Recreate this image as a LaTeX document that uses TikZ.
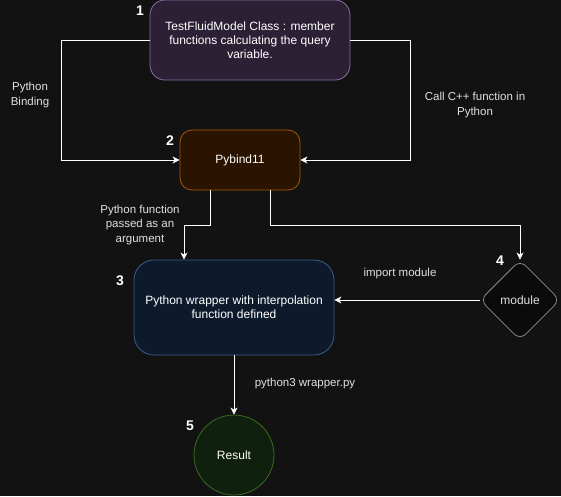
\documentclass[tikz,border=0pt]{standalone}
\usepackage{fontspec}
\setmainfont{Liberation Sans}
\usetikzlibrary{arrows.meta,shapes.geometric}

\definecolor{bgcol}{HTML}{121212}
\definecolor{modelfill}{HTML}{2B2034}
\definecolor{modeldraw}{HTML}{8E6CA0}
\definecolor{bindfill}{HTML}{2A1400}
\definecolor{binddraw}{HTML}{A05A0A}
\definecolor{wrapfill}{HTML}{0C1A2C}
\definecolor{wrapdraw}{HTML}{3E5C88}
\definecolor{modfill}{HTML}{0B0B0B}
\definecolor{moddraw}{HTML}{8A8A8A}
\definecolor{resfill}{HTML}{10200E}
\definecolor{resdraw}{HTML}{3A6A1E}
\definecolor{labelgrey}{HTML}{E0E0E0}

\tikzset{
  block/.style={draw, line width=0.8pt, text=white, align=center,
    font=\fontsize{12}{14}\selectfont, inner sep=0pt},
  link/.style={draw=white, line width=0.8pt, -{Stealth[length=7pt,width=7pt,inset=2pt]}},
  edgetext/.style={text=labelgrey, align=center, font=\fontsize{11.5}{14.5}\selectfont},
  stepnum/.style={text=white, font=\fontsize{14}{16}\selectfont\bfseries}
}

\begin{document}
\begin{tikzpicture}[x=1pt,y=-1pt]

% background
\fill[bgcol] (0,0) rectangle (561,496);
\useasboundingbox (0,0) rectangle (561,496);

% Nodes
\node[block, fill=modelfill, draw=modeldraw, rounded corners=15pt,
  minimum width=200pt, minimum height=80pt] (model) at (250,40)
  {TestFluidModel Class : member\\functions calculating the query\\variable.};
\node[block, fill=bindfill, draw=binddraw, rounded corners=12pt,
  minimum width=120pt, minimum height=60pt] (bind) at (240,160) {Pybind11};
\node[block, fill=wrapfill, draw=wrapdraw, rounded corners=20pt,
  minimum width=200pt, minimum height=95pt] (wrap) at (234,307.5)
  {Python wrapper with interpolation\\function defined};
\node[block, diamond, fill=modfill, draw=moddraw, rounded corners=8pt,
  minimum width=80pt, minimum height=80pt, text=labelgrey] (mod) at (520,300) {module};
\node[block, circle, fill=resfill, draw=resdraw,
  minimum size=80pt] (res) at (234,455) {Result};

% Step numbers
\node[stepnum] (n1) at (140,11) {1};
\node[stepnum] (n2) at (170,141) {2};
\node[stepnum] (n3) at (120,281) {3};
\node[stepnum] (n4) at (500,261) {4};
\node[stepnum] (n5) at (190,426) {5};

% Connectors
\coordinate (lbend) at (61,40);
\coordinate (rbend) at (410,40);
\draw[link] (model.west) -- (lbend) |- (bind.west);
\draw[link] (model.east) -- (rbend) |- (bind.east);
\draw[link] ([xshift=-30pt]bind.south) -- ++(0,35) -| ([xshift=-50pt]wrap.north);
\draw[link] ([xshift=30pt]bind.south) -- ++(0,35) -| (mod.north);
\draw[link] (mod.west) -- (mod.west -| wrap.east);
\draw[link] (wrap.south) -- (res.north);

% Connector labels
\node[edgetext] (bindtext) at (30,95) {Python\\Binding};
\node[edgetext] (calltext) at (475,105) {Call C++ function in\\Python};
\node[edgetext] (passtext) at (140,225) {Python function\\passed as an\\argument};
\node[edgetext] (importtext) at (400,274) {import module};
\node[edgetext] (runtext) at (305,384) {python3 wrapper.py};

\end{tikzpicture}
\end{document}
